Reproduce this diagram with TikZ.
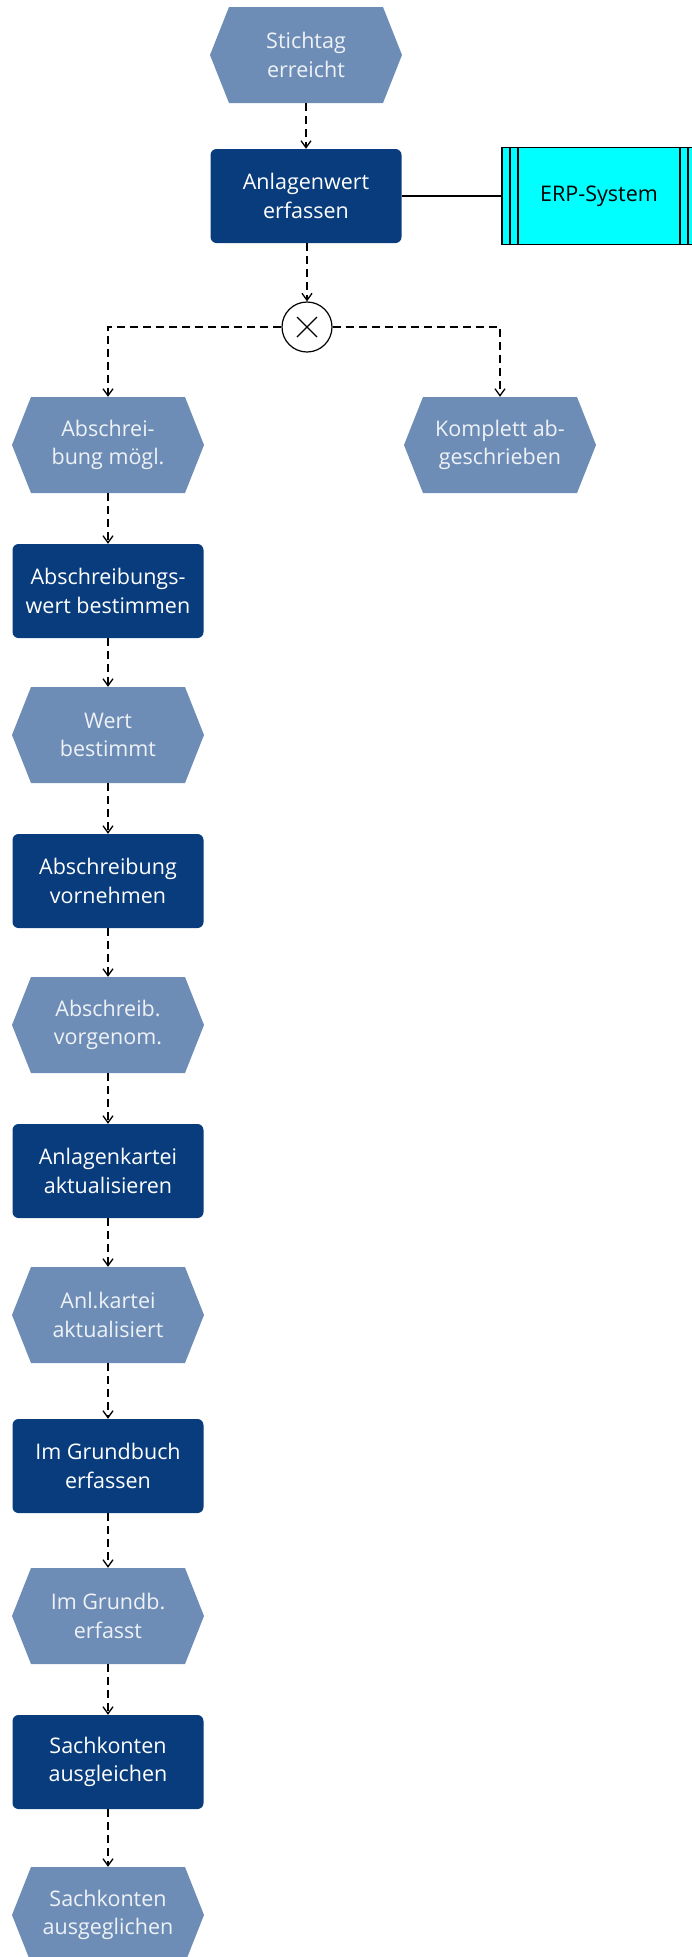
\documentclass[tikz,border=0pt]{standalone}
\usepackage{fontspec}
\setmainfont{Open Sans}
\usetikzlibrary{arrows.meta}
\definecolor{evfill}{HTML}{6E8DB6}
\definecolor{evtext}{HTML}{EEF2F7}
\definecolor{fnfill}{HTML}{083C7D}
\definecolor{erpfill}{HTML}{00FFFF}
\begin{document}
\begin{tikzpicture}[x=1pt,y=-1pt,
  txt/.style={align=center,font=\fontsize{21.5}{28.5}\selectfont},
  ev/.style={txt,fill=white,minimum width=192pt,minimum height=96pt,inner sep=0pt,text=evtext,
    path picture={\fill[evfill] (path picture bounding box.west)
      -- ([xshift=19pt]path picture bounding box.north west)
      -- ([xshift=-19pt]path picture bounding box.north east)
      -- (path picture bounding box.east)
      -- ([xshift=-19pt]path picture bounding box.south east)
      -- ([xshift=19pt]path picture bounding box.south west) -- cycle;}},
  fn/.style={txt,fill=fnfill,rounded corners=6pt,minimum width=191pt,minimum height=94pt,inner sep=0pt,text=white},
  erp/.style={txt,fill=erpfill,draw=black,line width=1.3pt,minimum width=194pt,minimum height=97pt,inner sep=0pt,text=black,
    path picture={
      \draw[line width=1.3pt] ([xshift=8pt]path picture bounding box.north west) -- ([xshift=8pt]path picture bounding box.south west);
      \draw[line width=1.3pt] ([xshift=16pt]path picture bounding box.north west) -- ([xshift=16pt]path picture bounding box.south west);
      \draw[line width=1.3pt] ([xshift=-8pt]path picture bounding box.north east) -- ([xshift=-8pt]path picture bounding box.south east);
      \draw[line width=1.3pt] ([xshift=-16pt]path picture bounding box.north east) -- ([xshift=-16pt]path picture bounding box.south east);}},
  xorg/.style={circle,draw=black,fill=white,line width=1.2pt,minimum size=50pt,inner sep=0pt,
    path picture={
      \draw[line width=1.2pt] ([xshift=-10pt,yshift=-10pt]path picture bounding box.center) -- ([xshift=10pt,yshift=10pt]path picture bounding box.center);
      \draw[line width=1.2pt] ([xshift=-10pt,yshift=10pt]path picture bounding box.center) -- ([xshift=10pt,yshift=-10pt]path picture bounding box.center);}},
  flow/.style={line width=1.3pt,dash pattern=on 8pt off 5pt,-{Straight Barb[length=7pt,width=10pt,line width=1.3pt]}},
  assoc/.style={line width=1.3pt}
]
\useasboundingbox (0,0) rectangle (691,1957);

\node[ev] (e1) at (306,55) {Stichtag\\erreicht};
\node[fn] (f1) at (306,196) {Anlagenwert\\erfassen};
\node[erp] (erp) at (599,196) {ERP-System};
\node[xorg] (x) at (307,327) {};
\node[ev] (e2) at (108,445) {Abschrei-\\bung mögl.};
\node[ev] (e3) at (500,445) {Komplett ab-\\geschrieben};
\node[fn] (f2) at (108,591) {Abschreibungs-\\wert bestimmen};
\node[ev] (e4) at (108,735) {Wert\\bestimmt};
\node[fn] (f3) at (108,881) {Abschreibung\\vornehmen};
\node[ev] (e5) at (108,1025) {Abschreib.\\vorgenom.};
\node[fn] (f4) at (108,1171) {Anlagenkartei\\aktualisieren};
\node[ev] (e6) at (108,1315) {Anl.kartei\\aktualisiert};
\node[fn] (f5) at (108,1466) {Im Grundbuch\\erfassen};
\node[ev] (e7) at (108,1616) {Im Grundb.\\erfasst};
\node[fn] (f6) at (108,1762) {Sachkonten\\ausgleichen};
\node[ev] (e8) at (108,1915) {Sachkonten\\ausgeglichen};

\draw[flow] (e1.south) -- (f1.north);
\draw[assoc] (f1.east) -- (erp.west);
\draw[flow] (f1.south -| x.north) -- (x.north);
\draw[flow] (x.west) -| (e2.north);
\draw[flow] (x.east) -| (e3.north);
\draw[flow] (e2.south) -- (f2.north);
\draw[flow] (f2.south) -- (e4.north);
\draw[flow] (e4.south) -- (f3.north);
\draw[flow] (f3.south) -- (e5.north);
\draw[flow] (e5.south) -- (f4.north);
\draw[flow] (f4.south) -- (e6.north);
\draw[flow] (e6.south) -- (f5.north);
\draw[flow] (f5.south) -- (e7.north);
\draw[flow] (e7.south) -- (f6.north);
\draw[flow] (f6.south) -- (e8.north);
\end{tikzpicture}
\end{document}
